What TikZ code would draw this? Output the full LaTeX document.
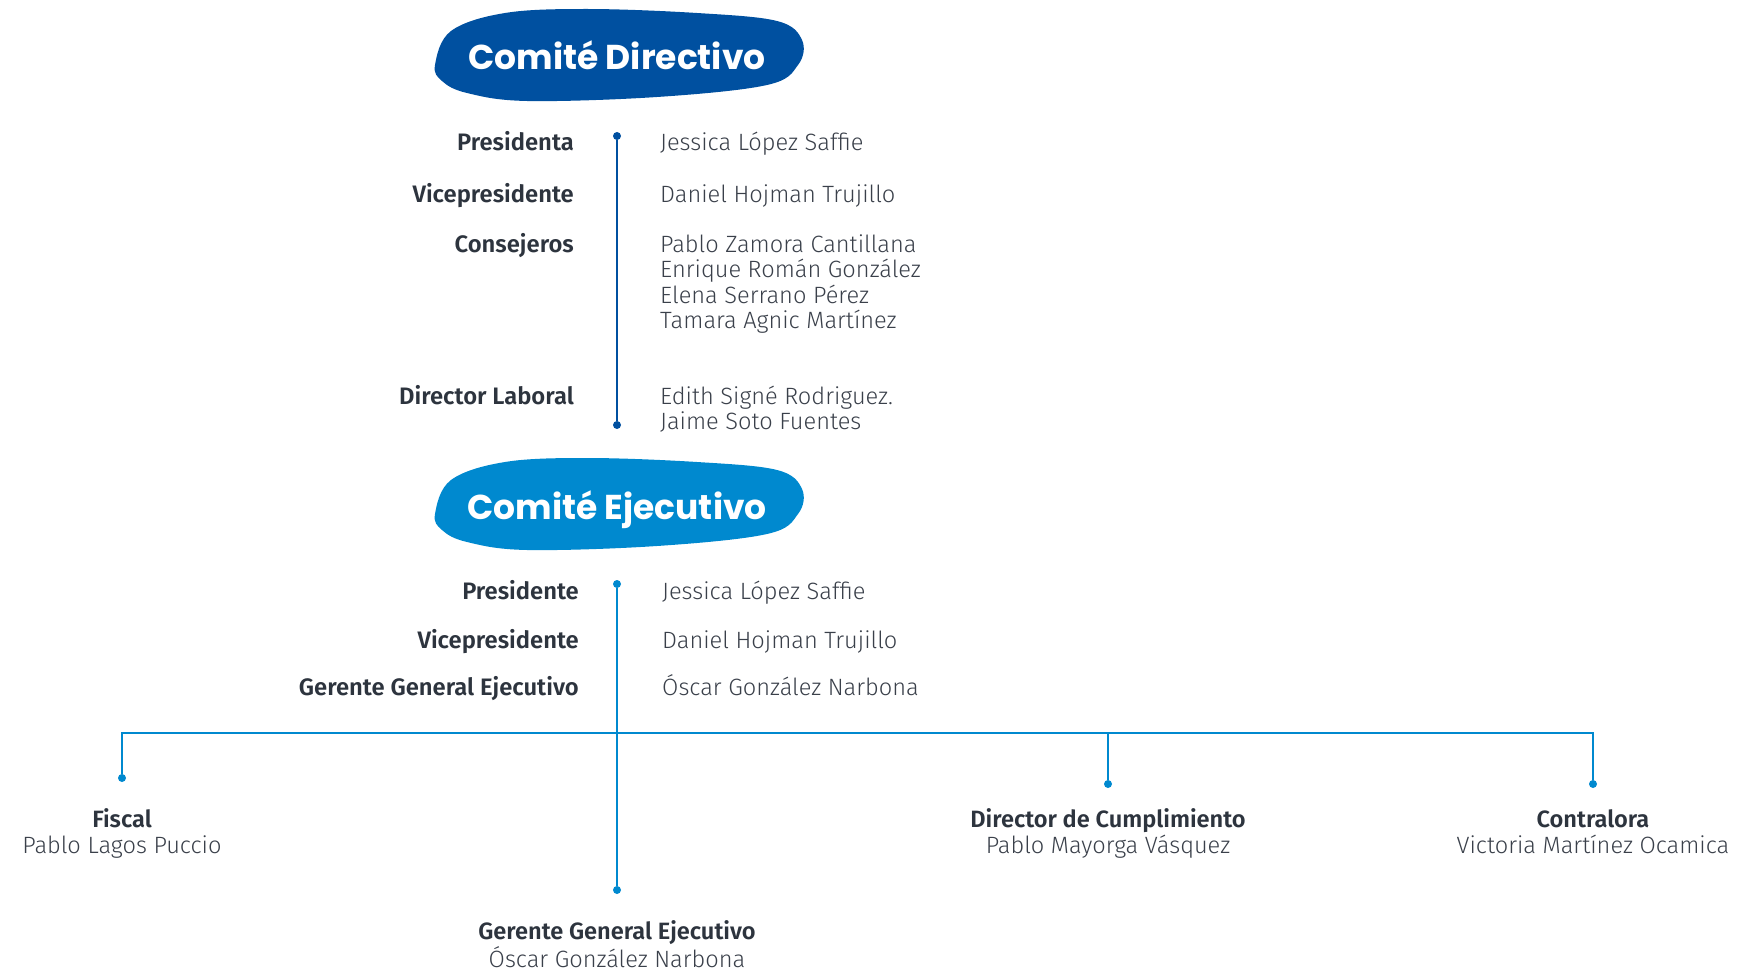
\documentclass[tikz,border=0pt]{standalone}
\usepackage{fontspec}
\setmainfont{Fira Sans}[UprightFont=* Light,BoldFont=* SemiBold]
\newfontfamily\headfont{Poppins}
\definecolor{cdblue}{RGB}{0,80,160}
\definecolor{ceblue}{RGB}{0,137,207}
\definecolor{roletext}{RGB}{45,52,62}
\definecolor{nametext}{RGB}{58,64,74}
\usetikzlibrary{positioning}

\begin{document}
\begin{tikzpicture}[x=1pt,y=-1pt,
  roletag/.style={anchor=base east,inner sep=0pt,text=roletext,
    font=\bfseries\fontsize{23.8}{25.5}\selectfont},
  person/.style={anchor=base west,align=left,inner sep=0pt,text=nametext,
    font=\fontsize{23.6}{25.5}\selectfont},
  postbox/.style={anchor=base,align=center,inner sep=0pt,text=nametext,
    font=\fontsize{23.6}{25.5}\selectfont},
  headtitle/.style={inner sep=0pt,text=white,font=\headfont\bfseries\fontsize{34.5}{34.5}\selectfont},
  enddot/.style={circle,fill,inner sep=0pt,minimum size=8pt},
  link/.style={line width=2.2pt}
]
  \useasboundingbox (0,0) rectangle (1738,971);
  % blob behind each committee title
  \def\blobshape{plot[smooth cycle,tension=0.6] coordinates {(-182,10) (-166,-24) (-112,-42)
    (-30,-46) (80,-42) (160,-34) (185,-15) (181,10) (150,30) (40,42) (-90,46) (-150,38) (-175,26)}}

  % Comite Directivo
  \coordinate (dirc) at (617,55);
  \fill[cdblue,shift={(dirc)}] \blobshape;
  \node[headtitle] (dirtitle) at (dirc) {Comité Directivo};

  \node[enddot,cdblue] (dtop) at (617,136) {};
  \node[enddot,cdblue] (dbot) at (617,425) {};
  \draw[link,cdblue] (dtop) -- (dbot);

  \node[roletag] (dpres) at (574,151) {Presidenta};
  \node[roletag] (dvice) at (574,202) {Vicepresidente};
  \node[roletag] (dcons) at (574,252) {Consejeros};
  \node[roletag] (dlab) at (574,404) {Director Laboral};

  % multi-line names sit on the baseline of their last line
  \node[person] (npres) at (660,151) {Jessica López Saffie};
  \node[person] (nvice) at (660,202) {Daniel Hojman Trujillo};
  \node[person] (ncons) at (660,328.5) {Pablo Zamora Cantillana\\Enrique Román González\\
    Elena Serrano Pérez\\Tamara Agnic Martínez};
  \node[person] (nlab) at (660,429.5) {Edith Signé Rodriguez.\\Jaime Soto Fuentes};

  % Comite Ejecutivo
  \coordinate (ejec) at (617,504);
  \fill[ceblue,shift={(ejec)}] \blobshape;
  \node[headtitle] (ejetitle) at (617,510) {Comité Ejecutivo};

  \node[roletag] (epres) at (579,599) {Presidente};
  \node[roletag] (evice) at (579,648) {Vicepresidente};
  \node[roletag] (eger) at (579,695) {Gerente General Ejecutivo};

  \node[person] (mpres) at (662,599) {Jessica López Saffie};
  \node[person] (mvice) at (662,648) {Daniel Hojman Trujillo};
  \node[person] (mger) at (662,695) {Óscar González Narbona};

  % branches under the executive committee
  \node[enddot,ceblue] (etop) at (617,584) {};
  \node[enddot,ceblue] (gdot) at (617,890) {};
  \node[enddot,ceblue] (fdot) at (122,778) {};
  \node[enddot,ceblue] (cumdot) at (1108,784) {};
  \node[enddot,ceblue] (condot) at (1593,784) {};
  \coordinate (hright) at (1593,733);

  \draw[link,ceblue] (etop) -- (gdot);
  \draw[link,ceblue] (fdot) |- (hright) -- (condot);
  \draw[link,ceblue] (cumdot) -- (cumdot |- hright);

  \node[postbox] (fiscal) at (122,853) {\textbf{\color{roletext}Fiscal}\\Pablo Lagos Puccio};
  \node[postbox] (cumpl) at (1108,853) {\textbf{\color{roletext}Director de Cumplimiento}\\Pablo Mayorga Vásquez};
  \node[postbox] (contra) at (1593,853) {\textbf{\color{roletext}Contralora}\\Victoria Martínez Ocamica};
  \node[postbox] (gerente) at (617,967) {\textbf{\color{roletext}Gerente General Ejecutivo}\\Óscar González Narbona};
\end{tikzpicture}
\end{document}
